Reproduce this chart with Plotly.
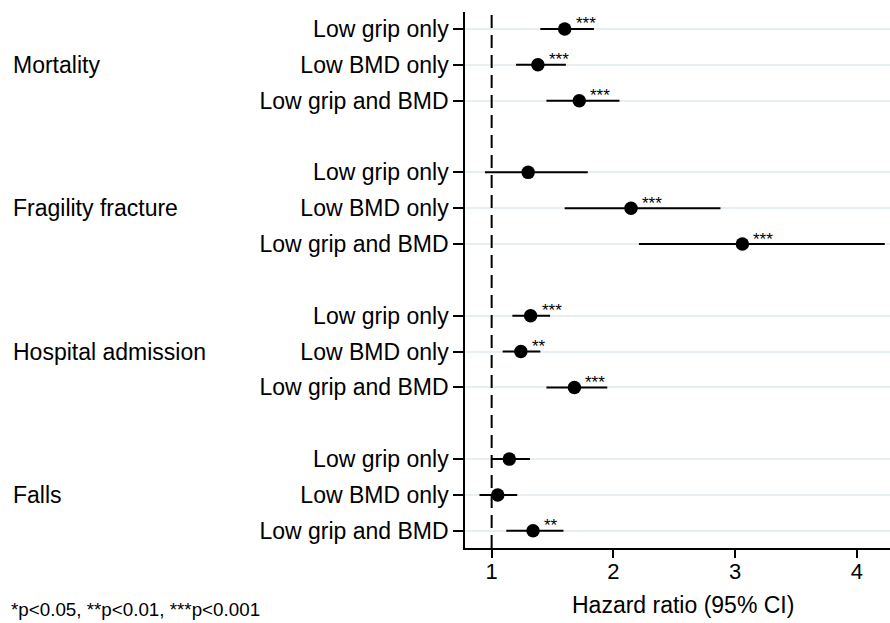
import plotly.graph_objects as go

groups = ["Mortality", "Fragility fracture", "Hospital admission", "Falls"]
subgroups = ["Low grip only", "Low BMD only", "Low grip and BMD"]

hr = [1.60, 1.38, 1.72,
      1.30, 2.145, 3.06,
      1.32, 1.24, 1.68,
      1.145, 1.05, 1.34]
ci_low = [1.40, 1.20, 1.45,
          0.945, 1.60, 2.21,
          1.17, 1.09, 1.45,
          1.00, 0.90, 1.12]
ci_high = [1.84, 1.61, 2.05,
           1.79, 2.88, 4.23,
           1.48, 1.40, 1.95,
           1.315, 1.21, 1.59]
sig = ["***", "***", "***",
       "", "***", "***",
       "***", "**", "***",
       "", "", "**"]
x_ticks = [1, 2, 3, 4]
ref_value = 1
footnote = "*p<0.05, **p<0.01, ***p<0.001"
x_title = "Hazard ratio (95% CI)"

FONT = "Liberation Sans, Arial, sans-serif"
ns = len(subgroups)
rows = [gi * (ns + 1) + si for gi in range(len(groups)) for si in range(ns)]
labels = [subgroups[si] for gi in range(len(groups)) for si in range(ns)]

fig = go.Figure()
fig.add_trace(go.Scatter(
    x=hr, y=rows, mode="markers",
    marker=dict(size=13.5, color="black"),
    error_x=dict(type="data", symmetric=False,
                 array=[h - e for h, e in zip(ci_high, hr)],
                 arrayminus=[e - l for e, l in zip(hr, ci_low)],
                 width=0, thickness=2, color="black"),
    showlegend=False, cliponaxis=False,
))

for x, y, s in zip(hr, rows, sig):
    if s:
        fig.add_annotation(text=s, x=x, y=y, xref="x", yref="y", xanchor="left",
                           yanchor="middle", xshift=9, yshift=5, showarrow=False,
                           font=dict(family=FONT, size=17, color="black"))

fig.add_shape(type="line", xref="x", yref="paper", x0=ref_value, x1=ref_value,
              y0=0, y1=1, line=dict(color="black", width=2, dash="13px,7px"))

L, R, T, B = 465, 0, 12, 75
W, H = 890, 623
pw = W - L - R
ph = H - T - B

def px_x(p):
    return (p - L) / pw

def px_y(p):
    return (H - B - p) / ph

for gi, g in enumerate(groups):
    fig.add_annotation(text=g, xref="paper", yref="y", x=px_x(11), y=gi * (ns + 1) + 1,
                       xanchor="left", yanchor="middle", showarrow=False,
                       font=dict(family=FONT, size=23, color="black"))

fig.add_annotation(text=x_title, xref="paper", yref="paper", x=px_x(683), y=px_y(605),
                   xanchor="center", yanchor="middle", showarrow=False,
                   font=dict(family=FONT, size=23, color="black"))
fig.add_annotation(text=footnote, xref="paper", yref="paper", x=px_x(9), y=px_y(609),
                   xanchor="left", yanchor="middle", showarrow=False,
                   font=dict(family=FONT, size=18.8, color="black"))

fig.update_layout(
    width=W, height=H,
    margin=dict(l=L, r=R, t=T, b=B, pad=0),
    plot_bgcolor="white", paper_bgcolor="white",
    font=dict(family=FONT, color="black"),
    xaxis=dict(range=[0.781, 4.273], tickvals=x_ticks, ticks="outside", ticklen=8,
               tickwidth=1.5, tickcolor="black", showline=True, linecolor="black",
               linewidth=1.5, showgrid=False, zeroline=False, ticklabelstandoff=-5,
               tickfont=dict(family=FONT, size=22, color="black")),
    yaxis=dict(range=[14.48, -0.474], tickvals=rows, ticktext=labels, ticks="outside",
               ticklen=10, tickwidth=1.5, tickcolor="black", showline=True,
               linecolor="black", linewidth=1.5, showgrid=True, gridcolor="#e8eff2",
               gridwidth=1.5, zeroline=False,
               tickfont=dict(family=FONT, size=23, color="black")),
)

fig.write_html("out.html")
